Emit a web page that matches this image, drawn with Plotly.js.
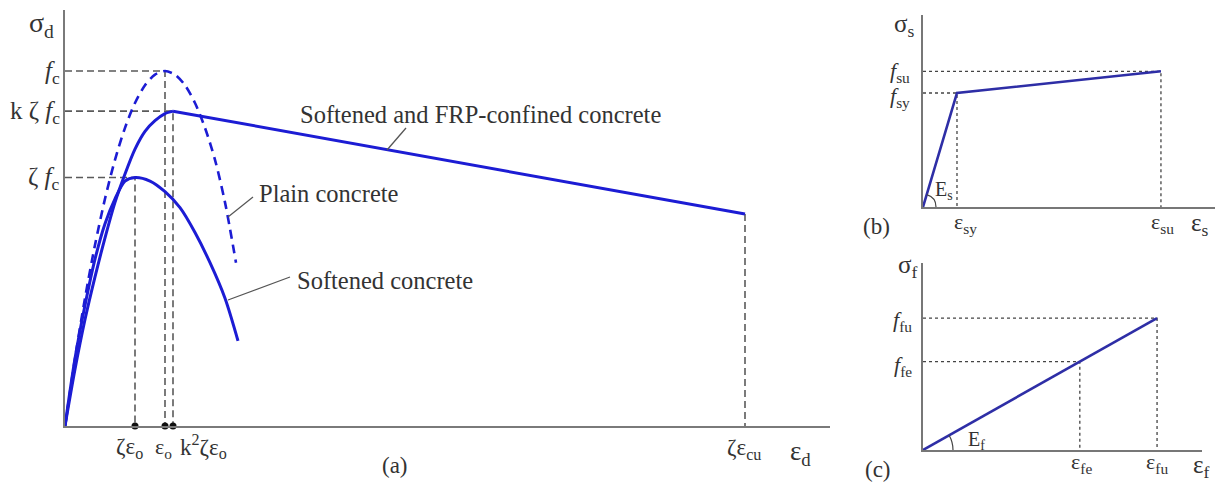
<!DOCTYPE html>
<html>
<head>
<meta charset="utf-8">
<script src="https://cdn.plot.ly/plotly-3.0.1.min.js"></script>
<style>
  html, body { margin: 0; padding: 0; background: #fff; }
  #chart { width: 1229px; height: 486px; }
</style>
</head>
<body>
<div id="chart"></div>
<script>
// ---- (a) concrete stress–strain curves (strain in units of ε_o, stress in units of f_c) ----
const plainStrain = [0, 0.1, 0.2, 0.3, 0.4, 0.5, 0.6, 0.7, 0.8, 0.9, 1.0, 1.1, 1.2, 1.3, 1.4, 1.5, 1.6, 1.71];
const plainStress = [0, 0.19, 0.36, 0.51, 0.64, 0.75, 0.84, 0.91, 0.96, 0.99, 1.0, 0.99, 0.96, 0.91, 0.84, 0.75, 0.63, 0.46];

const softStrain = [0, 0.1, 0.2, 0.3, 0.4, 0.5, 0.6, 0.7, 0.85, 1.0, 1.15, 1.3, 1.45, 1.6, 1.73];
const softStress = [0, 0.19, 0.34, 0.47, 0.57, 0.64, 0.69, 0.70, 0.69, 0.66, 0.615, 0.545, 0.46, 0.36, 0.24];

const frpStrain = [0, 0.1, 0.2, 0.3, 0.4, 0.5, 0.6, 0.7, 0.8, 0.9, 1.0, 1.08, 6.8];
const frpStress = [0, 0.16, 0.30, 0.42, 0.53, 0.63, 0.71, 0.78, 0.83, 0.86, 0.88, 0.887, 0.597];

// characteristic points of (a)
const keyStrain = [0.70, 1.0, 1.08];      // ζε_o, ε_o, k²ζε_o
const keyStress = [0.70, 1.0, 0.887];     // ζf_c, f_c, kζf_c
const ultStrain = 6.8;                    // ζε_cu
const ultStress = 0.597;

// ---- (b) steel bilinear law ----
const steelStrain = [0, 1.0, 7.0];        // 0, ε_sy, ε_su
const steelStress = [0, 1.0, 1.19];       // 0, f_sy, f_su

// ---- (c) FRP linear law ----
const fiberStrain = [0, 0.67, 1.0];       // 0, ε_fe, ε_fu
const fiberStress = [0, 0.67, 1.0];       // 0, f_fe, f_fu

// ---- page geometry helpers (pixel -> paper fraction) ----
const W = 1229, H = 486;
const fx = p => p / W;
const fy = p => 1 - p / H;

const BLUE = '#1c1cd4';
const NAVY = '#2e2ea6';
const GUIDE = '#5a5a5a';
const TXT = '#333333';
const FONT = 'Liberation Serif, Times New Roman, serif';

const traces = [];

// guide lines in (a): dashed from axes to the peaks
keyStrain.forEach((e, i) => {
  traces.push({x: [0, e, e], y: [keyStress[i], keyStress[i], 0], xaxis: 'x', yaxis: 'y',
    mode: 'lines', line: {color: GUIDE, width: 1.6, dash: '7px,4px'}, hoverinfo: 'skip'});
});
traces.push({x: [ultStrain, ultStrain], y: [ultStress, 0], xaxis: 'x', yaxis: 'y',
  mode: 'lines', line: {color: GUIDE, width: 1.6, dash: '7px,4px'}, hoverinfo: 'skip'});

// curves of (a)
traces.push({x: plainStrain, y: plainStress, xaxis: 'x', yaxis: 'y', mode: 'lines',
  line: {color: BLUE, width: 2.6, dash: '9px,6px', shape: 'spline', smoothing: 0.8}, hoverinfo: 'skip'});
traces.push({x: softStrain, y: softStress, xaxis: 'x', yaxis: 'y', mode: 'lines',
  line: {color: BLUE, width: 3, shape: 'spline', smoothing: 0.8}, hoverinfo: 'skip'});
const nF = frpStrain.length;
traces.push({x: frpStrain.slice(0, nF - 1), y: frpStress.slice(0, nF - 1), xaxis: 'x', yaxis: 'y', mode: 'lines',
  line: {color: BLUE, width: 3, shape: 'spline', smoothing: 0.8}, hoverinfo: 'skip'});
traces.push({x: frpStrain.slice(nF - 2), y: frpStress.slice(nF - 2), xaxis: 'x', yaxis: 'y', mode: 'lines',
  line: {color: BLUE, width: 3}, hoverinfo: 'skip'});

// dots on the strain axis
traces.push({x: keyStrain, y: keyStrain.map(() => 0), xaxis: 'x', yaxis: 'y', mode: 'markers',
  marker: {color: '#111', size: 7}, cliponaxis: false, hoverinfo: 'skip'});

// (b) dotted guides and steel law
traces.push({x: [0, steelStrain[2], steelStrain[2]], y: [steelStress[2], steelStress[2], 0], xaxis: 'x2', yaxis: 'y2',
  mode: 'lines', line: {color: '#444', width: 1.3, dash: 'dot'}, hoverinfo: 'skip'});
traces.push({x: [0, steelStrain[1], steelStrain[1]], y: [steelStress[1], steelStress[1], 0], xaxis: 'x2', yaxis: 'y2',
  mode: 'lines', line: {color: '#444', width: 1.3, dash: 'dot'}, hoverinfo: 'skip'});
traces.push({x: steelStrain, y: steelStress, xaxis: 'x2', yaxis: 'y2', mode: 'lines',
  line: {color: NAVY, width: 2.6}, hoverinfo: 'skip'});

// (c) dotted guides and FRP law
traces.push({x: [0, fiberStrain[2], fiberStrain[2]], y: [fiberStress[2], fiberStress[2], 0], xaxis: 'x3', yaxis: 'y3',
  mode: 'lines', line: {color: '#444', width: 1.3, dash: 'dot'}, hoverinfo: 'skip'});
traces.push({x: [0, fiberStrain[1], fiberStrain[1]], y: [fiberStress[1], fiberStress[1], 0], xaxis: 'x3', yaxis: 'y3',
  mode: 'lines', line: {color: '#444', width: 1.3, dash: 'dot'}, hoverinfo: 'skip'});
traces.push({x: [fiberStrain[0], fiberStrain[2]], y: [fiberStress[0], fiberStress[2]], xaxis: 'x3', yaxis: 'y3', mode: 'lines',
  line: {color: NAVY, width: 2.6}, hoverinfo: 'skip'});

// axis template: only the bottom and left lines are drawn
function ax(domain, range, anchor, color, width) {
  return {domain: domain, range: range, anchor: anchor, showgrid: false, zeroline: false,
    showticklabels: false, ticks: '', showline: true, linecolor: color, linewidth: width,
    fixedrange: true};
}

function ann(text, x, y, xanchor, size, extra) {
  return Object.assign({text: text, x: fx(x), y: fy(y), xref: 'paper', yref: 'paper',
    xanchor: xanchor || 'center', yanchor: 'middle', showarrow: false,
    font: {family: FONT, size: size || 20, color: TXT}}, extra || {});
}

const F = t => '<i>f</i><sub>' + t + '</sub>';

const annotations = [
  // (a)
  ann('σ<sub>d</sub>', 41, 24, 'center', 28),
  ann(F('c'), 62, 72, 'right', 25),
  ann('k ζ ' + F('c'), 62, 112, 'right', 25),
  ann('ζ ' + F('c'), 62, 178, 'right', 25),
  ann('ζε<sub>o</sub>', 129, 448, 'center', 23),
  ann('ε<sub>o</sub>', 163, 448, 'center', 22),
  ann('k<sup>2</sup>ζε<sub>o</sub>', 178, 446, 'left', 23),
  ann('ζε<sub>cu</sub>', 744, 449, 'center', 23),
  ann('ε<sub>d</sub>', 800, 453, 'center', 27),
  ann('(a)', 395, 465, 'center', 23),
  ann('Softened and FRP-confined concrete', 298, 115, 'left', 24.5),
  ann('Plain concrete', 257, 193, 'left', 24.5),
  ann('Softened concrete', 295, 280, 'left', 24.5),
  // (b)
  ann('σ<sub>s</sub>', 904, 25, 'center', 25),
  ann(F('su'), 912, 72, 'right', 22),
  ann(F('sy'), 912, 97, 'right', 22),
  ann('E<sub>s</sub>', 944, 190, 'center', 20),
  ann('ε<sub>sy</sub>', 965, 223, 'center', 22),
  ann('ε<sub>su</sub>', 1162, 223, 'center', 22),
  ann('ε<sub>s</sub>', 1200, 224, 'center', 25),
  ann('(b)', 876, 226, 'center', 23),
  // (c)
  ann('σ<sub>f</sub>', 907, 266, 'center', 25),
  ann(F('fu'), 914, 321, 'right', 22),
  ann(F('fe'), 914, 366, 'right', 22),
  ann('E<sub>f</sub>', 976, 440, 'center', 20),
  ann('ε<sub>fe</sub>', 1081, 463, 'center', 22),
  ann('ε<sub>fu</sub>', 1157, 463, 'center', 22),
  ann('ε<sub>f</sub>', 1201, 466, 'center', 25),
  ann('(c)', 878, 469, 'center', 23)
];

// leader lines from the curve names to the curves, and angle arcs for the moduli
const lead = (x0, y0, x1, y1) => ({type: 'line', xref: 'paper', yref: 'paper',
  x0: fx(x0), y0: fy(y0), x1: fx(x1), y1: fy(y1), line: {color: '#555', width: 1.3}});

const shapes = [
  lead(387, 150, 406, 128),
  lead(228, 217, 253, 197),
  lead(228, 300, 290, 277),
  {type: 'path', xref: 'x2', yref: 'y2', xsizemode: 'pixel', ysizemode: 'pixel', xanchor: 0, yanchor: 0,
   path: 'M 13 0 Q 13 9.6 3.8 12.4', line: {color: '#444', width: 1.2}},
  {type: 'path', xref: 'x3', yref: 'y3', xsizemode: 'pixel', ysizemode: 'pixel', xanchor: 0, yanchor: 0,
   path: 'M 30 0 Q 30 7.9 26.1 14.7', line: {color: '#444', width: 1.2}}
];

const layout = {
  width: W, height: H,
  margin: {l: 0, r: 0, t: 0, b: 0, pad: 0},
  paper_bgcolor: '#fff', plot_bgcolor: 'rgba(0,0,0,0)',
  showlegend: false,
  xaxis: ax([fx(65), fx(830)], [0, 7.65], 'y', '#7a7a7a', 2),
  yaxis: ax([fy(426), fy(10)], [0, 1.172], 'x', '#7a7a7a', 2),
  xaxis2: ax([fx(923), fx(1215)], [0, 8.59], 'y2', '#777', 1.6),
  yaxis2: ax([fy(207), fy(15)], [0, 1.684], 'x2', '#777', 1.6),
  xaxis3: ax([fx(923), fx(1202)], [0, 1.192], 'y3', '#777', 1.6),
  yaxis3: ax([fy(450), fy(263)], [0, 1.417], 'x3', '#777', 1.6),
  annotations: annotations,
  shapes: shapes
};

Plotly.newPlot('chart', traces, layout, {displayModeBar: false, staticPlot: true});
</script>
</body>
</html>
